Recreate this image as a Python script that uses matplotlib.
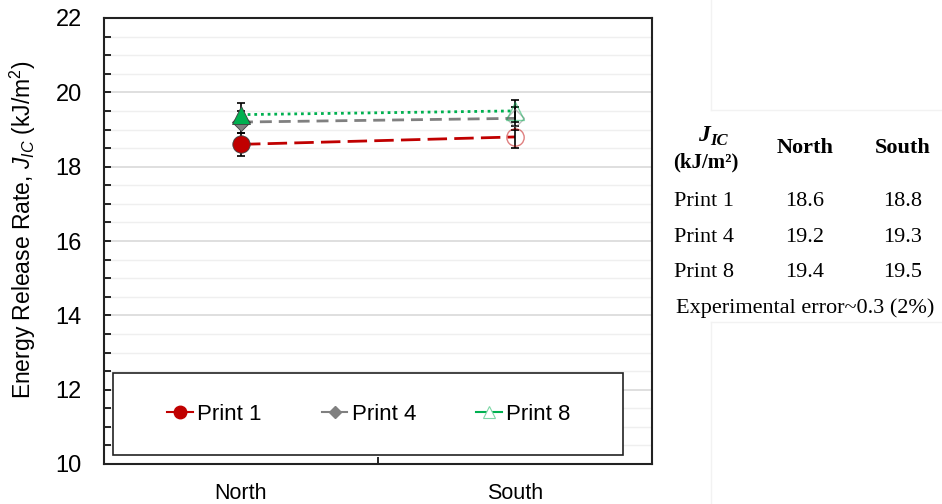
import matplotlib
matplotlib.use("Agg")
import matplotlib.pyplot as plt
from matplotlib.lines import Line2D
from matplotlib.patches import Rectangle
from matplotlib.ticker import MultipleLocator
import numpy as np

# J_IC values (kJ/m^2) per print, north and south locations
sides = ["North", "South"]
prints = ["Print 1", "Print 4", "Print 8"]
jic_north = [18.6, 19.2, 19.4]
jic_south = [18.8, 19.3, 19.5]
err = 0.3

colors = ["#c00000", "#808080", "#00b050"]
markers = ["o", "D", "^"]
msizes = [12.5, 9, 12.5]
styles = [(0, (7, 2.6)), (0, (4.3, 2.5)), (0, (1, 1.4))]

plt.rcParams["font.family"] = ["Liberation Sans", "DejaVu Sans"]
plt.rcParams["mathtext.fontset"] = "custom"
plt.rcParams["mathtext.rm"] = "Liberation Sans"
plt.rcParams["mathtext.it"] = "Liberation Sans:italic"

fig = plt.figure(figsize=(9.42, 5.04), dpi=100)


def fx(px):
    return px / 942


def fy(py):
    return 1 - py / 504


ax = fig.add_axes([fx(104), fy(464), 548 / 942, 446 / 504])

x = np.arange(len(sides))
for i in range(len(prints)):
    ys = [jic_north[i], jic_south[i]]
    ax.plot(x, ys, color=colors[i], linestyle=styles[i], lw=2, zorder=3)
    ax.errorbar(x, ys, yerr=err, fmt="none", ecolor="black", elinewidth=1.2,
                capsize=3, capthick=1.2, zorder=4)
    # filled marker at north, hollow marker at south
    ax.plot(x[0], ys[0], marker=markers[i], ms=msizes[i], color=colors[i],
            mec="#404040", mew=0.6, linestyle="none", zorder=5 + i * 0.1)
    ax.plot(x[1], ys[1], marker=markers[i], ms=msizes[i], mfc="none",
            mec=colors[i], mew=1, alpha=0.5, linestyle="none", zorder=5)

ax.set_xlim(-0.5, 1.5)
ax.set_ylim(10, 22)
ax.yaxis.set_major_locator(MultipleLocator(2))
ax.yaxis.set_minor_locator(MultipleLocator(0.5))
ax.grid(which="major", axis="y", color="#d9d9d9", lw=1.2, zorder=0)
ax.grid(which="minor", axis="y", color="#efefef", lw=1, zorder=0)
ax.set_axisbelow(True)

ax.set_xticks([0.5])
ax.set_xticklabels([""])
ax.set_xticks(x, minor=True)
ax.set_xticklabels(sides, minor=True)
ax.tick_params(axis="x", which="major", direction="in", length=5, width=1.2)
ax.tick_params(axis="x", which="minor", length=0, pad=14, labelsize=15.5)
ax.tick_params(axis="y", which="both", direction="in", length=5, width=1.2,
               labelsize=17, pad=16)
for sp in ax.spines.values():
    sp.set_linewidth(1.5)
    sp.set_color("#222222")

ax.set_ylabel(r"Energy Release Rate, $J_{IC}$ (kJ/m$^2$)", fontsize=16.5)
ax.yaxis.set_label_coords(-0.12, 0.525)

# legend box drawn separately so its size is fixed
ax.add_patch(Rectangle((fx(113), fy(455)), 510 / 942, 82 / 504,
                       transform=fig.transFigure, fill=True, fc="white",
                       ec="#222222", lw=1.2, zorder=6, clip_on=False))
handles = []
for i in range(len(prints)):
    if i == 2:
        h = Line2D([], [], color=colors[i], lw=1.5, marker=markers[i], ms=9,
                   mfc="white", mec="#7fd7a7", mew=0.8)
    else:
        h = Line2D([], [], color=colors[i], lw=1.5, marker=markers[i],
                   ms=9 if i == 0 else 6, mfc=colors[i], mec=colors[i])
    handles.append(h)
leg = ax.legend(handles, prints, ncol=3, loc="center",
                bbox_to_anchor=(fx(369), fy(414)),
                bbox_transform=fig.transFigure, fontsize=16, frameon=False,
                handlelength=1.15, handletextpad=0.2, columnspacing=2.7,
                borderaxespad=0, borderpad=0)
leg.set_zorder(7)

# summary table on the right
serif = ["Liberation Serif", "DejaVu Serif"]
fig.text(fx(710), fy(141), "J", family=serif, weight="bold", style="italic",
         fontsize=17, ha="right", va="baseline")
fig.text(fx(710), fy(145), "IC", family=serif, weight="bold", style="italic",
         fontsize=12, ha="left", va="baseline")
fig.text(fx(706), fy(167), "(kJ/m\u00b2)", family=serif, weight="bold",
         fontsize=15, ha="center", va="baseline")
for col, name in zip([805, 903], sides):
    fig.text(fx(col), fy(153), name, family=serif, weight="bold", fontsize=16,
             ha="center", va="baseline")
row_y = [206, 242, 277]
for i in range(len(prints)):
    fig.text(fx(704), fy(row_y[i]), prints[i], family=serif, fontsize=16,
             ha="center", va="baseline")
    fig.text(fx(805), fy(row_y[i]), f"{jic_north[i]:.1f}", family=serif,
             fontsize=16, ha="center", va="baseline")
    fig.text(fx(903), fy(row_y[i]), f"{jic_south[i]:.1f}", family=serif,
             fontsize=16, ha="center", va="baseline")
fig.text(fx(805), fy(313), f"Experimental error~{err} (2%)", family=serif,
         fontsize=16, ha="center", va="baseline")

# faint panel edges around the table area
for seg in [([711, 711], [0, 110]), ([711, 942], [110, 110]),
            ([711, 942], [322, 322]), ([711, 711], [322, 504])]:
    fig.add_artist(Line2D([fx(v) for v in seg[0]], [fy(v) for v in seg[1]],
                          color="#f2f2f2", lw=1))

fig.savefig("out.png", dpi=100)
